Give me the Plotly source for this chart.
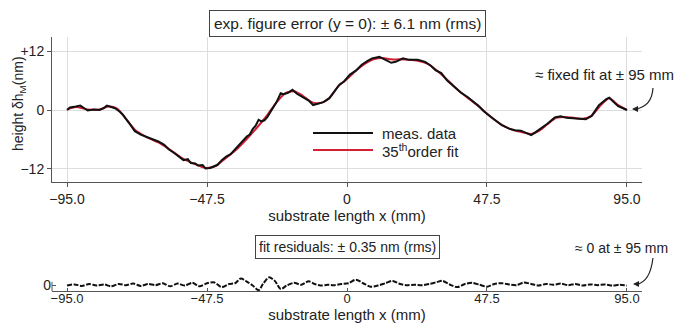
import plotly.graph_objects as go

# ---------------- data ----------------
x_meas = [-95, -94, -92, -90.5, -89, -88, -86, -84, -82.5, -81.5, -80, -78.5, -77, -76, -74, -72,
          -70, -68, -66, -64, -62, -60.5, -58.5, -57, -55.5, -54, -53, -51.5, -50.5, -49, -48,
          -46.5, -45, -44, -42.5, -41, -39.5, -38, -36.5, -35, -34, -33, -32, -31, -30, -29, -28,
          -27, -25.5, -24, -22.5, -21.5, -20, -18.5, -17, -15, -13, -11.5, -10, -8, -6, -4.5,
          -2.5, -1, 1, 3, 5, 7, 8.5, 11, 13, 15, 16.5, 19, 21, 24, 26.5, 28.5, 30, 32, 34, 36.5,
          38.5, 41, 43, 44.5, 46.5, 49, 51, 52.5, 55, 57, 59, 60.5, 62.5, 64, 66, 68, 70.5, 72.5,
          74.5, 77, 79, 81, 83, 85.5, 88, 89, 90.5, 92, 93.5, 95]
y_meas = [0.0, 0.5, 0.7, 0.9, 0.3, -0.1, 0.1, 0.0, 0.4, 0.9, 0.6, 0.3, -0.4, -1.0, -2.6, -4.3,
          -5.0, -5.5, -5.9, -6.4, -7.1, -8.0, -8.8, -9.6, -10.2, -10.0, -10.8, -10.9, -11.3, -11.2, -11.9,
          -11.8, -11.4, -11.2, -10.2, -9.5, -9.0, -8.0, -7.2, -6.0, -5.4, -5.0, -3.9, -3.2, -2.0, -2.3, -2.1,
          -1.4, 0.0, 1.5, 3.4, 3.2, 3.5, 4.1, 3.3, 2.6, 1.9, 1.0, 1.3, 1.6, 2.4, 3.5,
          5.2, 5.8, 7.2, 8.0, 9.2, 10.0, 10.5, 10.8, 10.2, 9.6, 9.8, 10.5, 10.2, 10.2, 9.8, 9.0, 8.1, 7.5, 6.0, 4.7,
          3.6, 2.6, 1.6, 0.9, -0.3, -1.4, -2.3, -3.1, -3.8, -4.1, -4.2, -4.6, -5.1, -4.5, -3.7, -2.8, -1.5, -1.3,
          -1.6, -1.7, -1.8, -1.9, -1.2, 1.0, 2.2, 2.5, 1.6, 0.8, 0.4, 0.0]

x_fit = [-95, -92, -88, -84, -81, -78, -75, -72, -68, -64, -60, -56, -52, -48, -45, -42, -38, -34,
         -30, -27, -24, -21, -18, -15, -12, -9, -6, -3, 0, 3, 6, 9, 12, 15, 18, 21, 24, 27, 30, 33,
         36, 39, 42, 45, 48, 51, 54, 57, 60, 62.5, 65, 68, 71, 74, 77, 80, 83, 86, 89, 92, 95]
y_fit = [0.1, 0.6, 0.1, 0.1, 0.7, 0.3, -1.8, -4.0, -5.5, -6.6, -8.1, -9.8, -10.9, -11.8, -11.5, -10.2, -8.3, -5.9,
         -3.2, -1.0, 1.5, 3.4, 3.8, 2.9, 1.6, 1.4, 2.4, 4.8, 6.3, 8.0, 9.4, 10.3, 10.6, 10.3, 10.3, 10.2, 10.0, 9.5, 8.3, 6.7,
         5.0, 3.4, 2.0, 0.6, -1.0, -2.4, -3.5, -4.2, -4.6, -4.9, -4.3, -2.9, -1.6, -1.4, -1.6, -1.8, -1.2, 0.9, 2.4, 1.0, 0.0]

x_res = [-95, -92.5, -90, -87.5, -85, -82.5, -80, -77.5, -75, -72.5, -70, -67.5, -65, -62.5, -60, -57.5,
         -55, -52.5, -50, -47.5, -45, -42.5, -40, -38, -36, -34, -32, -30, -28.5, -26.5, -24.5, -22.5,
         -20.5, -18, -15.5, -13, -11, -9, -6.5, -4.5, -2, 0.5, 3, 5.5, 8, 10.5, 13, 15.5, 18, 20.5, 23,
         25.5, 28, 30.5, 32.5, 35, 37.5, 40, 42.5, 45, 47.5, 50, 52.5, 55, 57.5, 60, 62.5, 65, 67.5, 70,
         72.5, 75, 77.5, 80, 82.5, 85, 87.5, 90, 92.5, 95]
y_res = [0.0, 0.15, -0.05, 0.2, 0.0, 0.15, -0.1, 0.2, 0.05, 0.25, -0.05, 0.2, 0.05, 0.3, -0.1, 0.25,
         0.0, 0.35, -0.1, 0.3, 0.4, -0.2, 0.2, 0.3, 0.9, 0.5, 0.0, -0.6, 0.2, 1.05, 0.6, -0.45,
         0.0, 0.35, 0.1, 0.55, 0.2, 0.0, 0.1, 0.05, 0.2, 0.3, 0.75, 0.3, -0.15, 0.0, 0.3, 0.6, 0.2, 0.05, 0.1,
         0.05, 0.2, 0.45, 0.6, 0.1, -0.2, 0.2, 0.35, 0.1, -0.15, 0.2, 0.3, 0.15, 0.05, 0.4, 0.2, 0.0, 0.2, 0.1,
         0.25, 0.05, 0.2, 0.0, 0.15, 0.05, 0.15, 0.0, 0.1, 0.0]

x_ticks = [-95, -47.5, 0, 47.5, 95]
x_ticklabels = ["\u221295.0", "\u221247.5", "0", "47.5", "95.0"]
y_ticks = [-12, 0, 12]
y_ticklabels = ["\u221212", "0", "+12"]
legend_names = ["meas. data", "35<sup>th</sup>order fit"]

# ---------------- styling ----------------
FONT = "Liberation Sans, Arial, sans-serif"
TXT = "#222222"
AX = "#555555"
GRID = "#dddddd"
RED = "#d41f35"
BLACK = "#111111"

fig = go.Figure()
fig.add_trace(go.Scatter(x=x_fit, y=y_fit, mode="lines", name=legend_names[1], showlegend=False,
                         line=dict(color=RED, width=2, shape="spline", smoothing=0.7),
                         xaxis="x", yaxis="y"))
fig.add_trace(go.Scatter(x=x_meas, y=y_meas, mode="lines", name=legend_names[0], showlegend=False,
                         line=dict(color=BLACK, width=2), xaxis="x", yaxis="y"))
fig.add_trace(go.Scatter(x=x_res, y=y_res, mode="lines", showlegend=False,
                         line=dict(color=BLACK, width=2, dash="5px,1.5px",
                                   shape="spline", smoothing=0.8),
                         xaxis="x2", yaxis="y2"))

axis_common = dict(showline=True, linecolor=AX, linewidth=1, ticks="outside", ticklen=4,
                   tickcolor=AX, tickfont=dict(family=FONT, size=14, color=TXT),
                   zeroline=False, automargin=False)

fig.update_layout(
    width=682, height=326,
    margin=dict(l=52, r=40, t=37, b=35),
    paper_bgcolor="white", plot_bgcolor="white",
    font=dict(family=FONT, size=15, color=TXT),
    showlegend=False,
    xaxis=dict(domain=[0, 1], range=[-100.1, 100.1], tickvals=x_ticks, ticktext=x_ticklabels,
               showgrid=True, gridcolor=GRID, gridwidth=1, anchor="y",
               title=dict(text="substrate length x (mm)", standoff=0,
                          font=dict(family=FONT, size=15, color=TXT)),
               **axis_common),
    yaxis=dict(domain=[0.4291, 1], range=[-14.65, 14.85], tickvals=y_ticks, ticktext=y_ticklabels,
               showgrid=True, gridcolor=GRID, gridwidth=1, anchor="x", **axis_common),
    xaxis2=dict(domain=[0, 1], range=[-100.1, 100.1], tickvals=x_ticks, ticktext=x_ticklabels,
                showgrid=False, anchor="y2", showline=True, linecolor=AX, linewidth=1,
                ticks="inside", ticklen=3, tickcolor=AX, ticklabelstandoff=-5,
                tickfont=dict(family=FONT, size=13, color=TXT), zeroline=False, automargin=False,
                title=dict(text="substrate length x (mm)", standoff=4,
                           font=dict(family=FONT, size=15, color=TXT))),
    yaxis2=dict(domain=[0, 0.0827], range=[-0.7, 2.0], tickvals=[0], ticktext=["0"],
                showgrid=False, showline=False, ticks="inside", ticklen=4, tickcolor=AX,
                tickfont=dict(family=FONT, size=14, color=TXT), zeroline=False,
                automargin=False, anchor="x2"),
)

def note(text, x, y, xref="paper", size=15, **kw):
    fig.add_annotation(text=text, xref=xref, yref="paper", x=x, y=y, showarrow=False,
                       xanchor=kw.pop("xanchor", "center"), yanchor="middle",
                       font=dict(family=FONT, size=size, color=TXT), **kw)

# y-axis title (rotated)
note("height \u03b4h<sub>M</sub>(nm)", -0.056, 0.74, size=14, textangle=-90)

# boxed labels
note("exp. figure error (y = 0): \u00b1 6.1 nm (rms)", 0, 1.0512, xref="x", size=15.5,
     bordercolor="#444444", borderwidth=1, borderpad=4, bgcolor="white")
note("fit residuals: \u00b1 0.35 nm (rms)", 0, 0.1732, xref="x2", size=14,
     bordercolor="#444444", borderwidth=1, borderpad=3, bgcolor="white")

# side notes
note("\u2248 fixed fit at \u00b1 95 mm", 0.9356, 0.8504, size=15)
note("\u2248 0 at \u00b1 95 mm", 0.966, 0.169, size=14)

# legend (drawn in place, lines 60 px long as in the reference)
fig.add_shape(type="line", xref="paper", yref="paper", x0=0.4424, x1=0.5441, y0=0.622, y1=0.622,
              line=dict(color=BLACK, width=2))
fig.add_shape(type="line", xref="paper", yref="paper", x0=0.4424, x1=0.5441, y0=0.555, y1=0.555,
              line=dict(color=RED, width=2))
note(legend_names[0], 0.5559, 0.622, xanchor="left")
note(legend_names[1], 0.5559, 0.555, xanchor="left")

# curved arrows
fig.add_shape(type="path", xref="paper", yref="paper",
              path="M 1.0186,0.7992 Q 1.0169,0.7283 0.9898,0.7165",
              line=dict(color=TXT, width=1.2))
fig.add_annotation(text="", xref="paper", yref="paper", x=0.983, y=0.7165, ax=8, ay=0,
                   showarrow=True, arrowhead=2, arrowsize=1, arrowwidth=1.2, arrowcolor=TXT)
fig.add_shape(type="path", xref="paper", yref="paper",
              path="M 1.0186,0.1299 Q 1.0136,0.0354 0.9915,0.0276",
              line=dict(color=TXT, width=1.2))
fig.add_annotation(text="", xref="paper", yref="paper", x=0.9847, y=0.0276, ax=8, ay=0,
                   showarrow=True, arrowhead=2, arrowsize=1, arrowwidth=1.2, arrowcolor=TXT)

# short y-axis stub of the residual panel
fig.add_shape(type="line", xref="paper", yref="y2", x0=0, x1=0, y0=-0.7, y1=0.48,
              line=dict(color=AX, width=1))

fig.write_html("out.html")
